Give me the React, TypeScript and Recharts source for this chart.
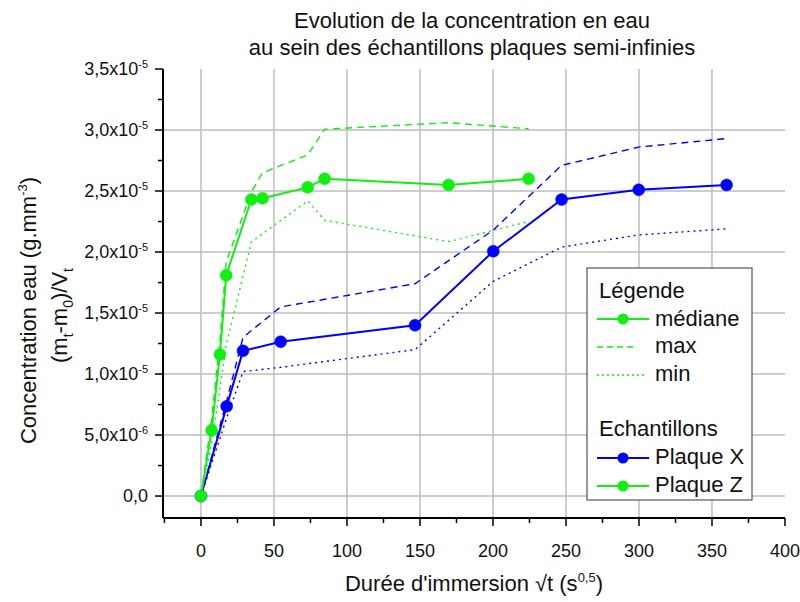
import React from 'react';
import { ComposedChart, Line, XAxis, YAxis, CartesianGrid, Legend, Customized } from 'recharts';

// ---- Data ----
// Plaque X
const xPlaqueX = [0, 17.6, 28.8, 54.6, 146.6, 200.2, 247.0, 299.8, 360.0];
const medPlaqueX = [0, 7.35e-6, 11.9e-6, 12.65e-6, 14.0e-6, 20.06e-6, 24.3e-6, 25.1e-6, 25.5e-6];
const maxPlaqueX = [0, 7.8e-6, 13.0e-6, 15.5e-6, 17.4e-6, 21.8e-6, 27.1e-6, 28.6e-6, 29.3e-6];
const minPlaqueX = [0, 6.4e-6, 10.2e-6, 10.55e-6, 12.0e-6, 17.6e-6, 20.4e-6, 21.4e-6, 21.9e-6];

// Plaque Z
const xPlaqueZ = [0, 7.3, 13.0, 17.3, 34.5, 42.2, 73.1, 84.7, 169.6, 224.4];
const medPlaqueZ = [0, 5.4e-6, 11.6e-6, 18.1e-6, 24.3e-6, 24.4e-6, 25.3e-6, 26.0e-6, 25.5e-6, 26.0e-6];
const maxPlaqueZ = [0, 6.3e-6, 12.8e-6, 19.2e-6, 24.9e-6, 26.5e-6, 27.95e-6, 30.06e-6, 30.6e-6, 30.1e-6];
const minPlaqueZ = [0, 4.3e-6, 8.8e-6, 12.4e-6, 20.8e-6, 21.5e-6, 24.2e-6, 22.6e-6, 20.85e-6, 22.5e-6];

// Ticks
const xMajorTicks = [0, 50, 100, 150, 200, 250, 300, 350, 400];
const xMinorTicks = [-25, 25, 75, 125, 175, 225, 275, 325, 375];
const yMajorTicks = [0, 5e-6, 1e-5, 1.5e-5, 2e-5, 2.5e-5, 3e-5, 3.5e-5];
const yMinorTicks = [2.5e-6, 7.5e-6, 1.25e-5, 1.75e-5, 2.25e-5, 2.75e-5, 3.25e-5];
const xGridValues = [0, 50, 100, 150, 200, 250, 300, 350];
const yGridValues = [0, 5e-6, 1e-5, 1.5e-5, 2e-5, 2.5e-5, 3e-5];
const xDomain = [-26, 400];
const yDomain = [-1.8e-6, 3.5e-5];

// Texts
const titleLines = ['Evolution de la concentration en eau', 'au sein des échantillons plaques semi-infinies'];
const legendHeader = 'Légende';
const legendStyles = ['médiane', 'max', 'min'];
const samplesHeader = 'Echantillons';
const sampleNames = ['Plaque X', 'Plaque Z'];

const BLUE = '#0000ff';
const GREEN = '#11ee11';
const FONT = '"Liberation Sans", Arial, sans-serif';

const rowsX = xPlaqueX.map((x, i) => ({ x, med: medPlaqueX[i], max: maxPlaqueX[i], min: minPlaqueX[i] }));
const rowsZ = xPlaqueZ.map((x, i) => ({ x, med: medPlaqueZ[i], max: maxPlaqueZ[i], min: minPlaqueZ[i] }));

const isIn = (arr: number[], v: number, eps: number) => arr.some((t) => Math.abs(t - v) < eps);

const formatY = (v: number) => {
  if (Math.abs(v) < 1e-15) return { mant: '0,0', exp: '' };
  const exp = Math.floor(Math.log10(v) + 1e-9);
  const mant = (v / Math.pow(10, exp)).toFixed(1).replace('.', ',');
  return { mant: mant + 'x10', exp: String(exp) };
};

const YTick = (props: any) => {
  const { x, y, payload } = props;
  const v = payload.value as number;
  const major = isIn(yMajorTicks, v, 1e-12);
  const len = major ? 8 : 5;
  const f = formatY(v);
  return (
    <g>
      <line x1={x - len} x2={x} y1={y} y2={y} stroke="#000" strokeWidth={1.5} />
      {major && (
        <text x={x - 15} y={y + 6} textAnchor="end" fontSize={18} fontFamily={FONT} fill="#111">
          {f.mant}
          {f.exp && (
            <tspan dy={-7} fontSize={11}>
              {f.exp}
            </tspan>
          )}
        </text>
      )}
    </g>
  );
};

const XTick = (props: any) => {
  const { x, y, payload } = props;
  const v = payload.value as number;
  const major = isIn(xMajorTicks, v, 1e-9);
  const len = major ? 8 : 5;
  return (
    <g>
      <line x1={x} x2={x} y1={y} y2={y + len} stroke="#000" strokeWidth={1.5} />
      {major && (
        <text x={x} y={y + 39} textAnchor="middle" fontSize={18} fontFamily={FONT} fill="#111">
          {String(v)}
        </text>
      )}
    </g>
  );
};

const XTitle = (props: any) => {
  const vb = props.viewBox || {};
  const cx = vb.x + vb.width / 2;
  return (
    <text x={cx} y={vb.y + 73} textAnchor="middle" fontSize={22} fontFamily={FONT} fill="#111">
      Durée d'immersion √t (s
      <tspan dy={-9} fontSize={13}>0,5</tspan>
      <tspan dy={9}>)</tspan>
    </text>
  );
};

const YTitle = (props: any) => {
  const vb = props.viewBox || {};
  const cy = vb.y + vb.height / 2 + 17;
  const x1 = 36;
  const x2 = 67;
  return (
    <g>
      <text
        x={x1}
        y={cy}
        transform={`rotate(-90, ${x1}, ${cy})`}
        textAnchor="middle"
        fontSize={22}
        fontFamily={FONT}
        fill="#111"
      >
        Concentration eau (g.mm
        <tspan dy={-9} fontSize={13}>-3</tspan>
        <tspan dy={9}>)</tspan>
      </text>
      <text
        x={x2}
        y={cy + 5}
        transform={`rotate(-90, ${x2}, ${cy + 5})`}
        textAnchor="middle"
        fontSize={22}
        fontFamily={FONT}
        fill="#111"
      >
        (m
        <tspan dy={6} fontSize={14}>t</tspan>
        <tspan dy={-6}>-m</tspan>
        <tspan dy={6} fontSize={14}>0</tspan>
        <tspan dy={-6}>)/V</tspan>
        <tspan dy={6} fontSize={14}>t</tspan>
      </text>
    </g>
  );
};

const Title = () => (
  <g>
    {titleLines.map((t, i) => (
      <text key={i} x={472} y={28 + i * 27} textAnchor="middle" fontSize={22} fontFamily={FONT} fill="#111">
        {t}
      </text>
    ))}
  </g>
);

const renderLegend = () => {
  const tx = 69;
  const lx1 = 11;
  const lx2 = 63;
  const styleRows = [
    { label: legendStyles[0], lineY: 52, textY: 59, dash: undefined as string | undefined, dot: true, end: lx2 },
    { label: legendStyles[1], lineY: 80, textY: 86, dash: '6 4', dot: false, end: 51 },
    { label: legendStyles[2], lineY: 108, textY: 114, dash: '2 3', dot: false, end: 61 },
  ];
  const sampleRows = [
    { label: sampleNames[0], color: BLUE, lineY: 191, textY: 197 },
    { label: sampleNames[1], color: GREEN, lineY: 219, textY: 225 },
  ];
  return (
    <svg width={168} height={235} style={{ display: 'block' }}>
      <rect x={1} y={1} width={165} height={232} fill="#fff" stroke="#555" strokeWidth={1.2} />
      <text x={13} y={31} fontSize={22} fontFamily={FONT} fill="#111">
        {legendHeader}
      </text>
      {styleRows.map((r, i) => (
        <g key={'s' + i}>
          <line x1={lx1} x2={r.end} y1={r.lineY} y2={r.lineY} stroke={GREEN} strokeWidth={r.dot ? 2 : 1.5} strokeDasharray={r.dash} />
          {r.dot && <circle cx={37} cy={r.lineY} r={5.5} fill={GREEN} />}
          <text x={tx} y={r.textY} fontSize={22} fontFamily={FONT} fill="#111">
            {r.label}
          </text>
        </g>
      ))}
      <text x={13} y={169} fontSize={22} fontFamily={FONT} fill="#111">
        {samplesHeader}
      </text>
      {sampleRows.map((r, i) => (
        <g key={'p' + i}>
          <line x1={lx1} x2={lx2} y1={r.lineY} y2={r.lineY} stroke={r.color} strokeWidth={2} />
          <circle cx={37} cy={r.lineY} r={5.5} fill={r.color} />
          <text x={tx} y={r.textY} fontSize={22} fontFamily={FONT} fill="#111">
            {r.label}
          </text>
        </g>
      ))}
    </svg>
  );
};

export default function App() {
  const xTicks = [...xMinorTicks, ...xMajorTicks].sort((a, b) => a - b);
  const yTicks = [...yMinorTicks, ...yMajorTicks].sort((a, b) => a - b);
  return (
    <div style={{ position: 'absolute', left: 0, top: 0, width: 800, height: 602, background: '#fff' }}>
      <ComposedChart width={800} height={602} margin={{ top: 69, right: 15, bottom: 0, left: 0 }}>
        <CartesianGrid
          stroke="#bdbdbd"
          strokeWidth={1.5}
          horizontalValues={yGridValues}
          verticalValues={xGridValues}
        />
        <XAxis
          type="number"
          dataKey="x"
          domain={xDomain}
          ticks={xTicks}
          interval={0}
          allowDataOverflow
          height={84}
          tickSize={0}
          tickMargin={0}
          tickLine={false}
          axisLine={{ stroke: '#000', strokeWidth: 2 }}
          tick={<XTick />}
          label={<XTitle />}
        />
        <YAxis
          type="number"
          domain={yDomain}
          ticks={yTicks}
          interval={0}
          allowDataOverflow
          width={163}
          tickSize={0}
          tickMargin={0}
          tickLine={false}
          axisLine={{ stroke: '#000', strokeWidth: 2 }}
          tick={<YTick />}
          label={<YTitle />}
        />
        <Line data={rowsX} dataKey="max" type="linear" stroke={BLUE} strokeWidth={1.4} strokeDasharray="7 5" dot={false} activeDot={false} isAnimationActive={false} />
        <Line data={rowsX} dataKey="min" type="linear" stroke={BLUE} strokeWidth={1.4} strokeDasharray="2 4" dot={false} activeDot={false} isAnimationActive={false} />
        <Line data={rowsX} dataKey="med" type="linear" stroke={BLUE} strokeWidth={2} dot={{ r: 6, fill: BLUE, stroke: BLUE, strokeWidth: 0.5 }} activeDot={false} isAnimationActive={false} />
        <Line data={rowsZ} dataKey="max" type="linear" stroke={GREEN} strokeWidth={1.4} strokeDasharray="7 5" dot={false} activeDot={false} isAnimationActive={false} />
        <Line data={rowsZ} dataKey="min" type="linear" stroke={GREEN} strokeWidth={1.4} strokeDasharray="2 4" dot={false} activeDot={false} isAnimationActive={false} />
        <Line data={rowsZ} dataKey="med" type="linear" stroke={GREEN} strokeWidth={2} dot={{ r: 6, fill: GREEN, stroke: GREEN, strokeWidth: 0.5 }} activeDot={false} isAnimationActive={false} />
        <Customized component={Title} />
        <Legend
          layout="vertical"
          align="center"
          verticalAlign="middle"
          content={renderLegend}
          wrapperStyle={{ left: 586, top: 267, width: 168, height: 235 }}
        />
      </ComposedChart>
    </div>
  );
}
